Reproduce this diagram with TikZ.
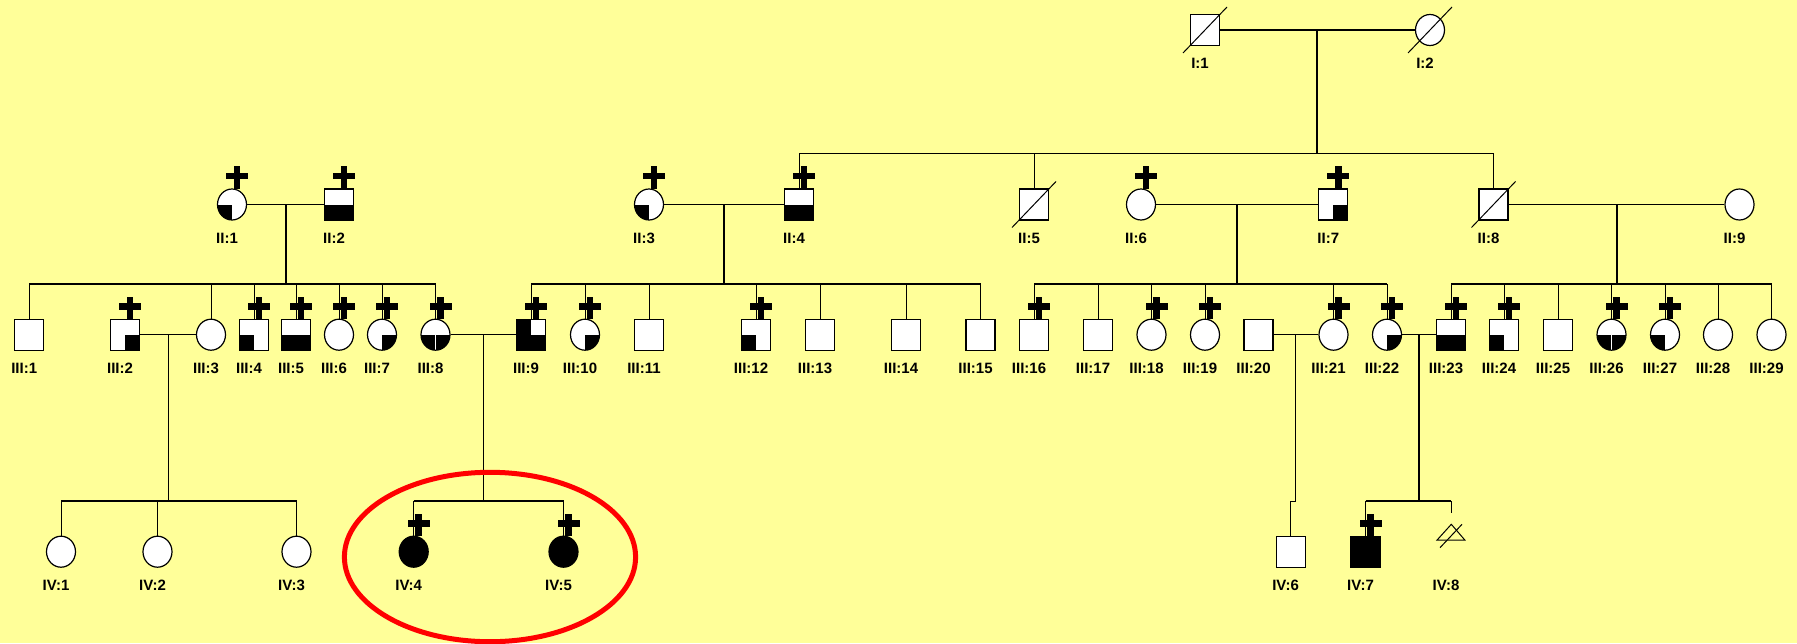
\documentclass[tikz,border=0pt]{standalone}
\usepackage{fontspec}
\setmainfont{Liberation Sans}
\usetikzlibrary{shapes.geometric,calc}
\definecolor{bg}{RGB}{255,255,153}
\newcommand\cplus[1]{%
  \fill ($(#1.north)+(1.7,-22)$) rectangle ($(#1.north)+(8.3,0.5)$);
  \fill ($(#1.north)+(-6,-15.7)$) rectangle ($(#1.north)+(16,-9)$);}
\newcommand\dslash[1]{\draw[line width=1pt] ($(#1.center)+(-22,23)$) -- ($(#1.center)+(22,-23)$);}
\newcommand\lab[2]{\node[labs] (l#1) at ($(#1.center)+(-5,33.5)$) {#2};}
\begin{document}
\begin{tikzpicture}[x=1pt,y=-1pt,
  sym/.style={draw, line width=1.2pt, fill=white, inner sep=0pt, minimum width=29pt, minimum height=31pt},
  male/.style={sym, rectangle},
  female/.style={sym, ellipse},
  qll/.style={path picture={\fill[black] (path picture bounding box.center) rectangle (path picture bounding box.south west);}},
  qlr/.style={path picture={\fill[black] (path picture bounding box.center) rectangle (path picture bounding box.south east);}},
  halfb/.style={path picture={\fill[black] (path picture bounding box.west) rectangle (path picture bounding box.south east);}},
  splitb/.style={path picture={\fill[black] (path picture bounding box.west) rectangle (path picture bounding box.south east);
     \draw[white, line width=0.8pt] (path picture bounding box.center) -- (path picture bounding box.south);}},
  threeb/.style={path picture={\fill[black] (path picture bounding box.north west) rectangle (path picture bounding box.south east);
     \fill[white] (path picture bounding box.center) rectangle (path picture bounding box.north east);}},
  fullb/.style={fill=black},
  labs/.style={font=\bfseries\fontsize{15}{15}\selectfont, inner sep=0pt},
  ml/.style={line width=1.1pt},
  sib/.style={line width=1.1pt},
  kid/.style={line width=0.9pt},
  drop/.style={line width=1.8pt}]
\fill[bg] (0,0) rectangle (1797,643);
\useasboundingbox (0,0) rectangle (1797,643);

% ---------- Generation I
\node[male] (I1) at (1205,30) {};
\node[female] (I2) at (1430,30) {};
% ---------- Generation II
\node[female,qll] (II1) at (232,204.5) {};
\node[male,halfb] (II2) at (339,204.5) {};
\node[female,qll] (II3) at (649,204.5) {};
\node[male,halfb] (II4) at (799,204.5) {};
\node[male] (II5) at (1034,204.5) {};
\node[female] (II6) at (1141,204.5) {};
\node[male,qlr] (II7) at (1333.3,204.5) {};
\node[male] (II8) at (1493.5,204.5) {};
\node[female] (II9) at (1739.5,204.5) {};
% ---------- Generation III
\node[male] (III1) at (29.2,334.7) {};
\node[male,qlr] (III2) at (125,334.7) {};
\node[female] (III3) at (211,334.7) {};
\node[male,qll] (III4) at (254,334.7) {};
\node[male,halfb] (III5) at (296,334.7) {};
\node[female] (III6) at (339,334.7) {};
\node[female,qlr] (III7) at (382,334.7) {};
\node[female,splitb] (III8) at (435.5,334.7) {};
\node[male,threeb] (III9) at (531,334.7) {};
\node[female,qlr] (III10) at (585,334.7) {};
\node[male] (III11) at (649,334.7) {};
\node[male,qll] (III12) at (756,334.7) {};
\node[male] (III13) at (820,334.7) {};
\node[male] (III14) at (906,334.7) {};
\node[male] (III15) at (980.5,334.7) {};
\node[male] (III16) at (1034,334.7) {};
\node[male] (III17) at (1098,334.7) {};
\node[female] (III18) at (1151.5,334.7) {};
\node[female] (III19) at (1205,334.7) {};
\node[male] (III20) at (1258.5,334.7) {};
\node[female] (III21) at (1333.5,334.7) {};
\node[female,qlr] (III22) at (1387,334.7) {};
\node[male,halfb] (III23) at (1451,334.7) {};
\node[male,qll] (III24) at (1504,334.7) {};
\node[male] (III25) at (1558,334.7) {};
\node[female,splitb] (III26) at (1611.5,334.7) {};
\node[female,qll] (III27) at (1665,334.7) {};
\node[female] (III28) at (1718,334.7) {};
\node[female] (III29) at (1771.5,334.7) {};
% ---------- Generation IV
\node[female] (IV1) at (61,551.7) {};
\node[female] (IV2) at (157.5,551.7) {};
\node[female] (IV3) at (296.5,551.7) {};
\node[female,fullb] (IV4) at (413.7,551.7) {};
\node[female,fullb] (IV5) at (563.5,551.7) {};
\node[male] (IV6) at (1290.6,551.7) {};
\node[male,fullb] (IV7) at (1365.5,551.7) {};
\coordinate (IV8) at (1451.3,524.3);
\draw[line width=1pt] (IV8) -- (1464.8,540) -- (1437.1,540) -- cycle;
\draw[line width=1pt] (1440,547.7) -- (1462,524.3);

% ---------- plus marks
\foreach \p in {II1,II2,II3,II4,II6,II7,III2,III4,III5,III6,III7,III8,III9,III10,III12,III16,III18,III19,III21,III22,III23,III24,III26,III27,IV4,IV5,IV7} {\cplus{\p}}
% ---------- deceased
\dslash{I1}\dslash{I2}\dslash{II5}\dslash{II8}

% ---------- labels
\lab{I1}{I:1}\lab{I2}{I:2}
\foreach \i in {1,...,9} {\lab{II\i}{II:\i}}
\foreach \i in {1,...,29} {\lab{III\i}{III:\i}}
\foreach \i in {1,...,7} {\lab{IV\i}{IV:\i}}
\node[labs] (lIV8) at (1446,585) {IV:8};

% ---------- connectors generation I -> II
\draw[ml] (I1.east) -- (I2.west);
\coordinate (dI) at (1317,30);
\coordinate (sII) at (1317,153.3);
\draw[drop] (dI) -- (sII);
\draw[sib] (II4.north |- sII) -- (II8.north |- sII);
\foreach \c in {II4,II5,II8} {\draw[kid] (\c.north |- sII) -- (\c.north);}

% ---------- generation II -> III
\draw[ml] (II1.east) -- (II2.west);
\coordinate (dA) at (285.7,204.5); \coordinate (sA) at (285.7,284);
\draw[drop] (dA) -- (sA);
\draw[sib] (III1.north |- sA) -- (III8.north |- sA);
\foreach \c in {III1,III3,III4,III5,III6,III7,III8} {\draw[kid] (\c.north |- sA) -- (\c.north);}

\draw[ml] (II3.east) -- (II4.west);
\coordinate (dB) at (724.3,204.5); \coordinate (sB) at (724.3,284);
\draw[drop] (dB) -- (sB);
\draw[sib] (III9.north |- sB) -- (III15.north |- sB);
\foreach \c in {III9,III10,III11,III12,III13,III14,III15} {\draw[kid] (\c.north |- sB) -- (\c.north);}

\draw[ml] (II6.east) -- (II7.west);
\coordinate (dC) at (1237.3,204.5); \coordinate (sC) at (1237.3,284);
\draw[drop] (dC) -- (sC);
\draw[sib] (III16.north |- sC) -- (III22.north |- sC);
\foreach \c in {III16,III17,III18,III19,III21,III22} {\draw[kid] (\c.north |- sC) -- (\c.north);}

\draw[ml] (II8.east) -- (II9.west);
\coordinate (dD) at (1617,204.5); \coordinate (sD) at (1617,284);
\draw[drop] (dD) -- (sD);
\draw[sib] (III23.north |- sD) -- (III29.north |- sD);
\foreach \c in {III23,III24,III25,III26,III27,III28,III29} {\draw[kid] (\c.north |- sD) -- (\c.north);}

% ---------- generation III -> IV
\draw[ml] (III2.east) -- (III3.west);
\coordinate (dE) at (168,334.7); \coordinate (sE) at (168,501);
\draw[kid] (dE) -- (sE);
\draw[sib] (IV1.north |- sE) -- (IV3.north |- sE);
\foreach \c in {IV1,IV2,IV3} {\draw[kid] (\c.north |- sE) -- (\c.north);}

\draw[ml] (III8.east) -- (III9.west);
\coordinate (dF) at (483.3,334.7); \coordinate (sF) at (483.3,501);
\draw[kid] (dF) -- (sF);
\draw[sib] (IV4.north |- sF) -- (IV5.north |- sF);
\foreach \c in {IV4,IV5} {\draw[kid] (\c.north |- sF) -- (\c.north);}

\draw[ml] (III20.east) -- (III21.west);
\coordinate (dG) at (1295,334.7); \coordinate (sG) at (1295,501);
\draw[kid] (dG) -- (sG) -- (IV6.north |- sG) -- (IV6.north);

\draw[ml] (III22.east) -- (III23.west);
\coordinate (dH) at (1418.7,334.7); \coordinate (sH) at (1418.7,501);
\draw[drop] (dH) -- (sH);
\draw[sib] (IV7.north |- sH) -- (IV8 |- sH);
\draw[kid] (IV7.north |- sH) -- (IV7.north);
\coordinate (IV8stub) at (1451.3,513.3);
\draw[kid] (IV8 |- sH) -- (IV8stub);

% ---------- highlight
\draw[red, line width=5pt] (490,557) ellipse [x radius=145.6, y radius=84.7];
\end{tikzpicture}
\end{document}
